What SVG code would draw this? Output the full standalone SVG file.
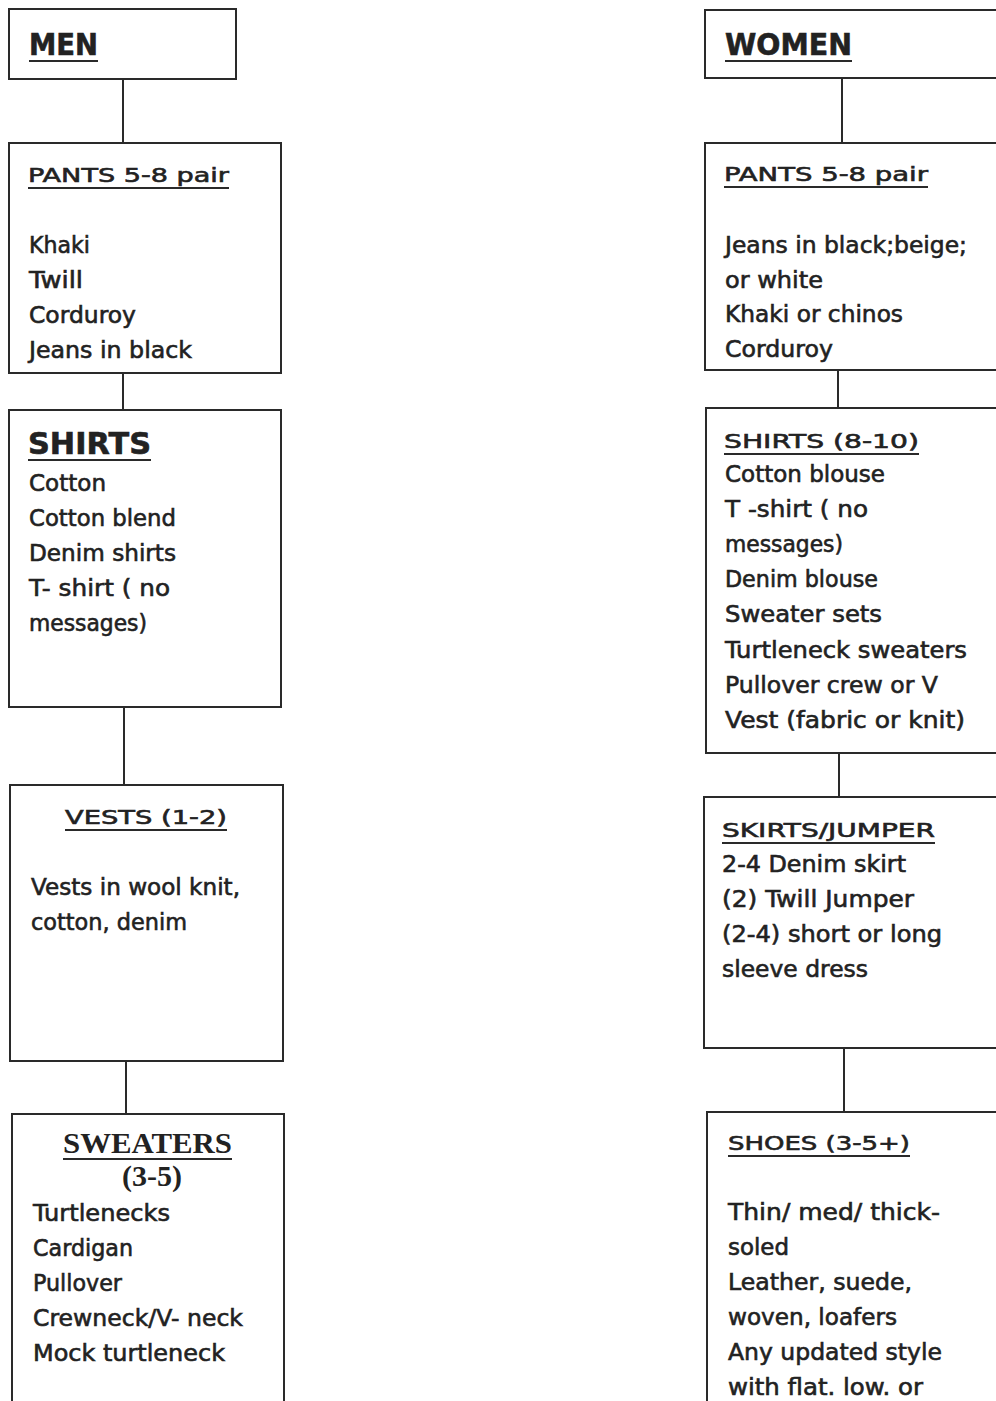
<svg xmlns="http://www.w3.org/2000/svg" width="996" height="1401" viewBox="0 0 996 1401">
<style>
.box{fill:#fff;stroke:#2a2a2a;stroke-width:2}
.con{stroke:#2a2a2a;stroke-width:2;fill:none}
.ul{stroke:#2a2a2a;stroke-width:2}
.t{font-family:"DejaVu Sans","Liberation Sans",sans-serif;fill:#222;stroke:#222;stroke-width:0.6}
.b{font-size:23px}
.h{font-size:20px}
.hb{font-size:30px;font-weight:bold}
.s{font-family:"Liberation Serif","DejaVu Serif",serif;font-weight:bold;fill:#222;font-size:30px}
</style>
<rect width="996" height="1401" fill="#fff"/>
<g id="connectors">
<path class="con" d="M123,79V143M123,373V410M124,707V785M126,1061V1114M842,78V143M838,370V408M839,753V797M844,1048V1112"/>
</g>
<g id="men">
<rect class="box" x="9" y="9" width="227" height="70"/>
<text class="t hb" x="29" y="55" textLength="69" lengthAdjust="spacingAndGlyphs">MEN</text>
<line class="ul" x1="29" y1="61" x2="98" y2="61" stroke-width="2.5"/>
</g>
<g id="men-pants">
<rect class="box" x="9" y="143" width="272" height="230"/>
<text class="t h" x="28" y="182" textLength="201" lengthAdjust="spacingAndGlyphs">PANTS 5-8 pair</text>
<line class="ul" x1="28" y1="188" x2="229" y2="188"/>
<text class="t b" x="29" y="253" textLength="61" lengthAdjust="spacingAndGlyphs">Khaki</text>
<text class="t b" x="29" y="288" textLength="54" lengthAdjust="spacingAndGlyphs">Twill</text>
<text class="t b" x="29" y="323" textLength="107" lengthAdjust="spacingAndGlyphs">Corduroy</text>
<text class="t b" x="29" y="358" textLength="163" lengthAdjust="spacingAndGlyphs">Jeans in black</text>
</g>
<g id="men-shirts">
<rect class="box" x="9" y="410" width="272" height="297"/>
<text class="t hb" x="28" y="454" textLength="123" lengthAdjust="spacingAndGlyphs">SHIRTS</text>
<line class="ul" x1="28" y1="460" x2="151" y2="460" stroke-width="2.5"/>
<text class="t b" x="29" y="491" textLength="77" lengthAdjust="spacingAndGlyphs">Cotton</text>
<text class="t b" x="29" y="526" textLength="147" lengthAdjust="spacingAndGlyphs">Cotton blend</text>
<text class="t b" x="29" y="561" textLength="147" lengthAdjust="spacingAndGlyphs">Denim shirts</text>
<text class="t b" x="29" y="596" textLength="141" lengthAdjust="spacingAndGlyphs">T- shirt ( no</text>
<text class="t b" x="29" y="631" textLength="118" lengthAdjust="spacingAndGlyphs">messages)</text>
</g>
<g id="men-vests">
<rect class="box" x="10" y="785" width="273" height="276"/>
<text class="t h" x="65" y="824" textLength="162" lengthAdjust="spacingAndGlyphs">VESTS (1-2)</text>
<line class="ul" x1="65" y1="830" x2="227" y2="830"/>
<text class="t b" x="31" y="895" textLength="209" lengthAdjust="spacingAndGlyphs">Vests in wool knit,</text>
<text class="t b" x="31" y="930" textLength="156" lengthAdjust="spacingAndGlyphs">cotton, denim</text>
</g>
<g id="men-sweaters">
<rect class="box" x="12" y="1114" width="272" height="300"/>
<text class="s" x="63" y="1153" textLength="169" lengthAdjust="spacingAndGlyphs">SWEATERS</text>
<line class="ul" x1="63" y1="1159" x2="232" y2="1159"/>
<text class="s" x="122" y="1186" textLength="60" lengthAdjust="spacingAndGlyphs" font-size="28">(3-5)</text>
<text class="t b" x="33" y="1221" textLength="137" lengthAdjust="spacingAndGlyphs">Turtlenecks</text>
<text class="t b" x="33" y="1256" textLength="100" lengthAdjust="spacingAndGlyphs">Cardigan</text>
<text class="t b" x="33" y="1291" textLength="89" lengthAdjust="spacingAndGlyphs">Pullover</text>
<text class="t b" x="33" y="1326" textLength="210" lengthAdjust="spacingAndGlyphs">Crewneck/V- neck</text>
<text class="t b" x="33" y="1361" textLength="192" lengthAdjust="spacingAndGlyphs">Mock turtleneck</text>
</g>
<g id="women">
<rect class="box" x="705" y="10" width="300" height="68"/>
<text class="t hb" x="725" y="55" textLength="127" lengthAdjust="spacingAndGlyphs">WOMEN</text>
<line class="ul" x1="725" y1="61" x2="852" y2="61" stroke-width="2.5"/>
</g>
<g id="women-pants">
<rect class="box" x="705" y="143" width="300" height="227"/>
<text class="t h" x="724" y="181" textLength="204" lengthAdjust="spacingAndGlyphs">PANTS 5-8 pair</text>
<line class="ul" x1="724" y1="187" x2="928" y2="187"/>
<text class="t b" x="725" y="253" textLength="242" lengthAdjust="spacingAndGlyphs">Jeans in black;beige;</text>
<text class="t b" x="725" y="288" textLength="98" lengthAdjust="spacingAndGlyphs">or white</text>
<text class="t b" x="725" y="322" textLength="178" lengthAdjust="spacingAndGlyphs">Khaki or chinos</text>
<text class="t b" x="725" y="357" textLength="108" lengthAdjust="spacingAndGlyphs">Corduroy</text>
</g>
<g id="women-shirts">
<rect class="box" x="706" y="408" width="300" height="345"/>
<text class="t h" x="724" y="448" textLength="195" lengthAdjust="spacingAndGlyphs">SHIRTS (8-10)</text>
<line class="ul" x1="724" y1="454" x2="919" y2="454"/>
<text class="t b" x="725" y="482" textLength="160" lengthAdjust="spacingAndGlyphs">Cotton blouse</text>
<text class="t b" x="725" y="517" textLength="143" lengthAdjust="spacingAndGlyphs">T -shirt ( no</text>
<text class="t b" x="725" y="552" textLength="118" lengthAdjust="spacingAndGlyphs">messages)</text>
<text class="t b" x="725" y="587" textLength="153" lengthAdjust="spacingAndGlyphs">Denim blouse</text>
<text class="t b" x="725" y="622" textLength="157" lengthAdjust="spacingAndGlyphs">Sweater sets</text>
<text class="t b" x="725" y="658" textLength="242" lengthAdjust="spacingAndGlyphs">Turtleneck sweaters</text>
<text class="t b" x="725" y="693" textLength="213" lengthAdjust="spacingAndGlyphs">Pullover crew or V</text>
<text class="t b" x="725" y="728" textLength="240" lengthAdjust="spacingAndGlyphs">Vest (fabric or knit)</text>
</g>
<g id="women-skirts">
<rect class="box" x="704" y="797" width="300" height="251"/>
<text class="t h" x="722" y="837" textLength="213" lengthAdjust="spacingAndGlyphs">SKIRTS/JUMPER</text>
<line class="ul" x1="722" y1="843" x2="935" y2="843"/>
<text class="t b" x="722" y="872" textLength="184" lengthAdjust="spacingAndGlyphs">2-4 Denim skirt</text>
<text class="t b" x="722" y="907" textLength="192" lengthAdjust="spacingAndGlyphs">(2) Twill Jumper</text>
<text class="t b" x="722" y="942" textLength="220" lengthAdjust="spacingAndGlyphs">(2-4) short or long</text>
<text class="t b" x="722" y="977" textLength="146" lengthAdjust="spacingAndGlyphs">sleeve dress</text>
</g>
<g id="women-shoes">
<rect class="box" x="707" y="1112" width="300" height="300"/>
<text class="t h" x="728" y="1150" textLength="182" lengthAdjust="spacingAndGlyphs">SHOES (3-5+)</text>
<line class="ul" x1="728" y1="1156" x2="910" y2="1156"/>
<text class="t b" x="728" y="1220" textLength="212" lengthAdjust="spacingAndGlyphs">Thin/ med/ thick-</text>
<text class="t b" x="728" y="1255" textLength="61" lengthAdjust="spacingAndGlyphs">soled</text>
<text class="t b" x="728" y="1290" textLength="184" lengthAdjust="spacingAndGlyphs">Leather, suede,</text>
<text class="t b" x="728" y="1325" textLength="169" lengthAdjust="spacingAndGlyphs">woven, loafers</text>
<text class="t b" x="728" y="1360" textLength="214" lengthAdjust="spacingAndGlyphs">Any updated style</text>
<text class="t b" x="728" y="1395" textLength="195" lengthAdjust="spacingAndGlyphs">with flat. low. or</text>
</g>
</svg>
